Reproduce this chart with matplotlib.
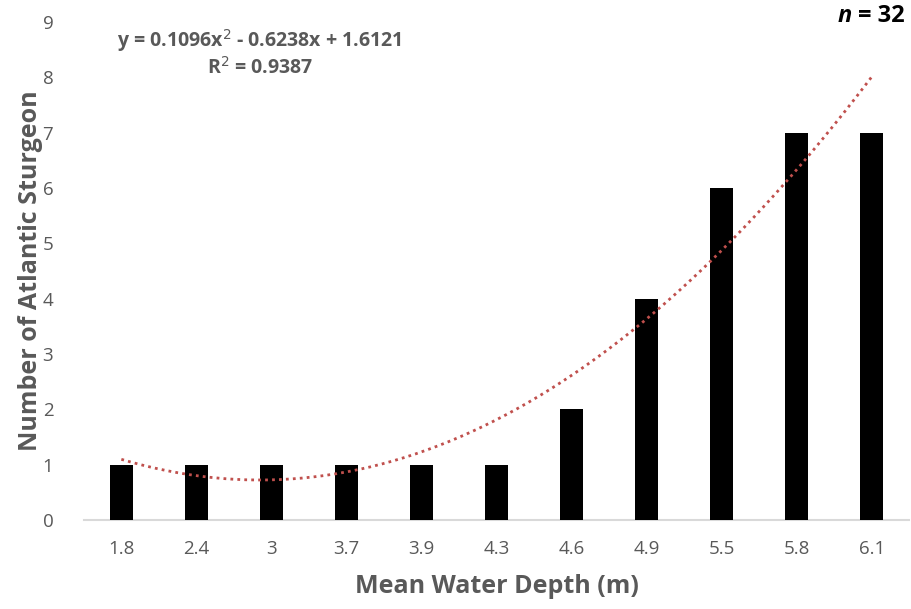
import numpy as np
import matplotlib.pyplot as plt

# Daten
depth_labels = ["1.8", "2.4", "3", "3.7", "3.9", "4.3", "4.6", "4.9", "5.5", "5.8", "6.1"]
counts = [1, 1, 1, 1, 1, 1, 2, 4, 6, 7, 7]
n_total = 32

plt.rcParams['font.family'] = ['Open Sans', 'DejaVu Sans']
grey = '#595959'

fig = plt.figure(figsize=(9.11, 6.09), dpi=100)
ax = fig.add_axes([0.092, 0.146, 0.906, 0.818])

pos = np.arange(len(counts))
ax.bar(pos, counts, width=0.31, color='black', zorder=3)

# Trendlinie 2. Ordnung (Excel: x = 1..n)
xn = pos + 1
coef = np.polyfit(xn, counts, 2)
xs = np.linspace(1, len(counts), 200)
ax.plot(xs - 1, np.polyval(coef, xs), color='#C0504D', lw=2, ls=(0, (1, 1.5)), zorder=4)
r2 = 1 - np.sum((np.array(counts) - np.polyval(coef, xn))**2) / np.sum((np.array(counts) - np.mean(counts))**2)

ax.set_xlim(-0.5, len(counts) - 0.5)
ax.set_ylim(0, 9)
ax.set_yticks(range(10))
ax.set_xticks(pos)
ax.set_xticklabels(depth_labels)
ax.tick_params(length=0, labelsize=13.5, colors=grey)
ax.tick_params(axis='y', pad=22)
ax.tick_params(axis='x', pad=14)

for s in ['top', 'right', 'left']:
    ax.spines[s].set_visible(False)
ax.spines['bottom'].set_color('#D9D9D9')
ax.spines['bottom'].set_linewidth(1.5)

ax.set_xlabel('Mean Water Depth (m)', fontsize=18, fontweight='bold', color=grey, labelpad=12)
ax.set_ylabel('Number of Atlantic Sturgeon', fontsize=18, fontweight='bold', color=grey, labelpad=0)

eq = "y = %.4fx$^2$ - %.4fx + %.4f" % (coef[0], -coef[1], coef[2])
fig.text(0.285, 0.934, eq, ha='center', va='center', fontsize=14, fontweight='bold', color=grey)
fig.text(0.285, 0.888, "R$^2$ = %.4f" % r2, ha='center', va='center', fontsize=14, fontweight='bold', color=grey)

t = fig.text(0.993, 0.973, "= %d" % n_total, ha='right', va='center', fontsize=17, fontweight='bold', color='black')
ax.annotate("n ", xy=(0, 0.5), xycoords=t, ha='right', va='center', fontsize=17,
            fontweight='bold', fontstyle='italic', color='black', annotation_clip=False)

fig.savefig('out.png', dpi=100)
